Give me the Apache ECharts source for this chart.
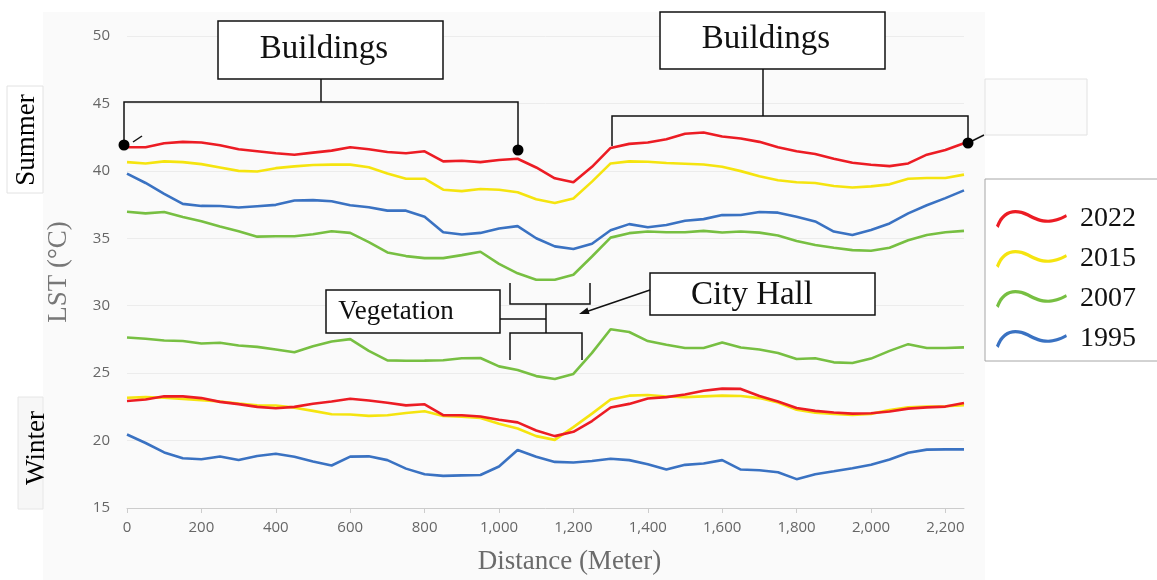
<!DOCTYPE html>
<html>
<head>
<meta charset="utf-8">
<title>LST profile</title>
<script src="https://cdn.jsdelivr.net/npm/echarts@6.0.0/dist/echarts.min.js"></script>
<style>
  html, body { margin: 0; padding: 0; background: #ffffff; }
  #chart { width: 1157px; height: 580px; }
</style>
</head>
<body>
<div id="chart"></div>
<script>
// Distance along the transect (m)
const distance = [0, 50, 100, 150, 200, 250, 300, 350, 400, 450, 500, 550, 600, 650, 700, 750, 800, 850, 900, 950,
  1000, 1050, 1100, 1150, 1200, 1250, 1300, 1350, 1400, 1450, 1500, 1550, 1600, 1650, 1700, 1750, 1800, 1850, 1900,
  1950, 2000, 2050, 2100, 2150, 2200, 2250];

// x-axis tick positions
const xTicks = [0, 200, 400, 600, 800, 1000, 1200, 1400, 1600, 1800, 2000, 2200];

// Summer LST (°C)
const summer2022 = [41.75, 41.75, 42.05, 42.15, 42.1, 41.9, 41.6, 41.45, 41.3, 41.2, 41.35, 41.5, 41.75, 41.6, 41.4, 41.3,
  41.45, 40.7, 40.75, 40.65, 40.8, 40.9, 40.25, 39.45, 39.15, 40.3, 41.7, 42.0, 42.1, 42.35, 42.75, 42.85, 42.55, 42.4,
  42.15, 41.75, 41.45, 41.25, 40.9, 40.6, 40.45, 40.35, 40.55, 41.2, 41.55, 42.05];
const summer2015 = [40.65, 40.55, 40.7, 40.65, 40.5, 40.25, 40.0, 39.95, 40.2, 40.33, 40.43, 40.46, 40.46, 40.27, 39.8,
  39.42, 39.42, 38.6, 38.5, 38.65, 38.6, 38.42, 37.9, 37.62, 37.95, 39.2, 40.55, 40.7, 40.68, 40.58, 40.53, 40.47, 40.3,
  39.98, 39.6, 39.3, 39.15, 39.1, 38.88, 38.77, 38.85, 39.0, 39.42, 39.47, 39.47, 39.72];
const summer2007 = [36.97, 36.85, 36.95, 36.58, 36.27, 35.87, 35.52, 35.12, 35.15, 35.15, 35.3, 35.52, 35.4, 34.72, 33.95,
  33.68, 33.53, 33.53, 33.75, 34.0, 33.1, 32.4, 31.93, 31.92, 32.3, 33.65, 35.05, 35.38, 35.5, 35.45, 35.45, 35.55, 35.43,
  35.5, 35.42, 35.2, 34.8, 34.5, 34.3, 34.12, 34.08, 34.3, 34.85, 35.25, 35.45, 35.55];
const summer1995 = [39.8, 39.1, 38.3, 37.55, 37.4, 37.39, 37.28, 37.38, 37.48, 37.8, 37.83, 37.75, 37.45, 37.3, 37.05,
  37.05, 36.6, 35.45, 35.28, 35.4, 35.72, 35.9, 35.0, 34.4, 34.2, 34.6, 35.6, 36.05, 35.82, 35.99, 36.3, 36.42, 36.72,
  36.73, 36.95, 36.9, 36.6, 36.25, 35.5, 35.25, 35.62, 36.1, 36.85, 37.45, 37.98, 38.55];

// Winter LST (°C)
const winter2022 = [22.93, 23.05, 23.28, 23.28, 23.15, 22.87, 22.7, 22.5, 22.4, 22.5, 22.73, 22.9, 23.1, 22.97, 22.8,
  22.61, 22.69, 21.88, 21.88, 21.78, 21.55, 21.35, 20.75, 20.33, 20.65, 21.45, 22.45, 22.72, 23.12, 23.22, 23.42, 23.7,
  23.85, 23.83, 23.3, 22.9, 22.42, 22.2, 22.08, 22.0, 22.03, 22.15, 22.37, 22.46, 22.52, 22.78];
const winter2015 = [23.17, 23.22, 23.17, 23.08, 23.0, 22.9, 22.75, 22.61, 22.6, 22.44, 22.2, 21.95, 21.93, 21.83, 21.88,
  22.05, 22.18, 21.82, 21.77, 21.67, 21.25, 20.9, 20.33, 20.05, 21.0, 22.0, 23.05, 23.33, 23.38, 23.27, 23.22, 23.28,
  23.33, 23.3, 23.15, 22.82, 22.29, 22.07, 21.98, 21.9, 21.98, 22.27, 22.47, 22.52, 22.55, 22.62];
const winter2007 = [27.64, 27.55, 27.42, 27.38, 27.2, 27.25, 27.05, 26.95, 26.75, 26.55, 27.0, 27.35, 27.52, 26.65, 25.95,
  25.92, 25.93, 25.96, 26.1, 26.12, 25.5, 25.23, 24.78, 24.56, 24.94, 26.5, 28.25, 28.05, 27.38, 27.1, 26.86, 26.86,
  27.27, 26.9, 26.75, 26.5, 26.05, 26.1, 25.8, 25.75, 26.08, 26.65, 27.15, 26.86, 26.86, 26.91];
const winter1995 = [20.45, 19.82, 19.12, 18.69, 18.62, 18.82, 18.56, 18.85, 19.02, 18.8, 18.45, 18.15, 18.81, 18.83,
  18.55, 17.92, 17.5, 17.38, 17.42, 17.45, 18.08, 19.3, 18.8, 18.42, 18.37, 18.48, 18.65, 18.55, 18.25, 17.85, 18.2,
  18.3, 18.55, 17.85, 17.8, 17.65, 17.14, 17.5, 17.72, 17.95, 18.2, 18.6, 19.1, 19.33, 19.35, 19.35];

const years = ['2022', '2015', '2007', '1995'];
const colors = { '2022': '#ec1c24', '2015': '#f5e40f', '2007': '#77bf42', '1995': '#3a72c2' };

const SERIF = '"Liberation Serif", "Times New Roman", serif';
const SANS = '"Open Sans", "Noto Sans", sans-serif';

function lineSeries(name, values) {
  return {
    type: 'line',
    name: name,
    data: distance.map((d, i) => [d, values[i]]),
    symbol: 'none',
    showSymbol: false,
    silent: true,
    z: 3,
    lineStyle: { width: 2.6, color: colors[name] },
    itemStyle: { color: colors[name] }
  };
}

// wavy legend icon drawn as a thin filled band
const waveIcon = 'path://M0,19 C6,3 18,1 31,7 C44,14 52,16 67,8 L68,10.5 C52,19 43,17 30,10 C18,4 8,6 2.5,21 Z';

const ink = { stroke: '#111', lineWidth: 1.5, fill: null };
function seg(points) {
  return { type: 'polyline', z: 20, silent: true, shape: { points: points }, style: ink };
}
function box(x, y, w, h) {
  return { type: 'rect', z: 20, silent: true, shape: { x: x, y: y, width: w, height: h },
    style: { fill: '#ffffff', stroke: '#111', lineWidth: 1.5 } };
}
function label(text, x, y, size) {
  return { type: 'text', z: 21, silent: true, x: x, y: y,
    style: { text: text, font: size + 'px ' + SERIF, fill: '#111', align: 'center', verticalAlign: 'middle' } };
}
function dot(x, y) {
  return { type: 'circle', z: 21, silent: true, shape: { cx: x, cy: y, r: 5.5 }, style: { fill: '#000' } };
}

const graphics = [
  // panel backdrop
  { type: 'rect', z: -10, silent: true, shape: { x: 43, y: 12, width: 942, height: 568 }, style: { fill: '#fafafa' } },
  // season tags
  { type: 'rect', z: 1, silent: true, shape: { x: 7, y: 86, width: 36, height: 107 },
    style: { fill: '#ffffff', stroke: '#e2e2e2', lineWidth: 1 } },
  { type: 'text', z: 2, silent: true, x: 27, y: 140, rotation: Math.PI / 2,
    style: { text: 'Summer', font: '27px ' + SERIF, fill: '#000', align: 'center', verticalAlign: 'middle' } },
  { type: 'rect', z: 1, silent: true, shape: { x: 18, y: 397, width: 25, height: 112 },
    style: { fill: '#f7f7f7', stroke: '#e6e6e6', lineWidth: 1 } },
  { type: 'text', z: 2, silent: true, x: 37, y: 448, rotation: Math.PI / 2,
    style: { text: 'Winter', font: '27px ' + SERIF, fill: '#000', align: 'center', verticalAlign: 'middle' } },
  // empty note frame and legend frame
  { type: 'rect', z: 1, silent: true, shape: { x: 985, y: 79, width: 102, height: 56 },
    style: { fill: '#fcfcfc', stroke: '#e2e2e2', lineWidth: 1 } },
  { type: 'rect', z: 1, silent: true, shape: { x: 985, y: 179, width: 200, height: 182 },
    style: { fill: '#ffffff', stroke: '#a6a6a6', lineWidth: 1 } },

  // Buildings (west)
  box(218, 21, 225, 58),
  label('Buildings', 324, 49, 33),
  seg([[321, 79], [321, 102]]),
  seg([[124, 145], [124, 102], [518, 102], [518, 150]]),
  dot(124, 145),
  dot(518, 150),
  seg([[133, 142], [142, 136]]),

  // Buildings (east)
  box(660, 12, 225, 57),
  label('Buildings', 766, 39, 33),
  seg([[763, 69], [763, 116]]),
  seg([[612, 146], [612, 116], [968, 116], [968, 143]]),
  dot(968, 143),
  seg([[968, 143], [984, 135]]),

  // Vegetation brackets
  box(326, 290, 174, 43),
  label('Vegetation', 396, 312, 27),
  seg([[500, 319], [546, 319]]),
  seg([[546, 304], [546, 333]]),
  seg([[510, 283], [510, 304], [590, 304], [590, 283]]),
  seg([[510, 360], [510, 333], [582, 333], [582, 360]]),

  // City Hall arrow
  box(650, 273, 225, 42),
  label('City Hall', 752, 295, 33),
  seg([[650, 290], [584, 312.5]]),
  { type: 'polygon', z: 21, silent: true, shape: { points: [[579, 314], [589.6, 314.1], [587.4, 307.5]] },
    style: { fill: '#111' } }
];

const chart = echarts.init(document.getElementById('chart'), null, { renderer: 'canvas' });

chart.setOption({
  animation: false,
  backgroundColor: '#ffffff',
  grid: { left: 127, right: 193, top: 36, bottom: 68 },
  legend: {
    orient: 'vertical',
    left: 996,
    top: 205,
    itemWidth: 71,
    itemHeight: 22,
    itemGap: 12,
    padding: 0,
    icon: waveIcon,
    data: years,
    textStyle: { fontFamily: SERIF, fontSize: 28, color: '#111', padding: [0, 0, 0, 8] }
  },
  xAxis: {
    type: 'value',
    min: 0,
    max: 2250,
    interval: 200,
    name: 'Distance (Meter)',
    nameLocation: 'middle',
    nameGap: 40,
    nameTextStyle: { fontFamily: SERIF, fontSize: 27, color: '#6b6b6b', padding: [0, 0, 0, 48] },
    splitLine: { show: false },
    axisLine: { lineStyle: { color: '#cccccc', width: 1 } },
    axisTick: { show: true, length: 5, customValues: xTicks, lineStyle: { color: '#cccccc' } },
    axisLabel: {
      customValues: xTicks,
      margin: 12,
      color: '#666666',
      fontFamily: SANS,
      fontSize: 15,
      formatter: v => String(v).replace(/\B(?=(\d{3})+(?!\d))/g, ',')
    }
  },
  yAxis: {
    type: 'value',
    min: 15,
    max: 50,
    interval: 5,
    name: 'LST (°C)',
    nameLocation: 'middle',
    nameGap: 55,
    nameTextStyle: { fontFamily: SERIF, fontSize: 27, color: '#777777' },
    axisLine: { show: false },
    axisTick: { show: false },
    splitLine: { lineStyle: { color: '#ececec', width: 1 } },
    axisLabel: { margin: 17, color: '#666666', fontFamily: SANS, fontSize: 15 }
  },
  series: [
    lineSeries('2022', summer2022),
    lineSeries('2015', summer2015),
    lineSeries('1995', summer1995),
    lineSeries('2007', summer2007),
    lineSeries('2007', winter2007),
    lineSeries('2015', winter2015),
    lineSeries('2022', winter2022),
    lineSeries('1995', winter1995)
  ],
  graphic: graphics
});
</script>
</body>
</html>
